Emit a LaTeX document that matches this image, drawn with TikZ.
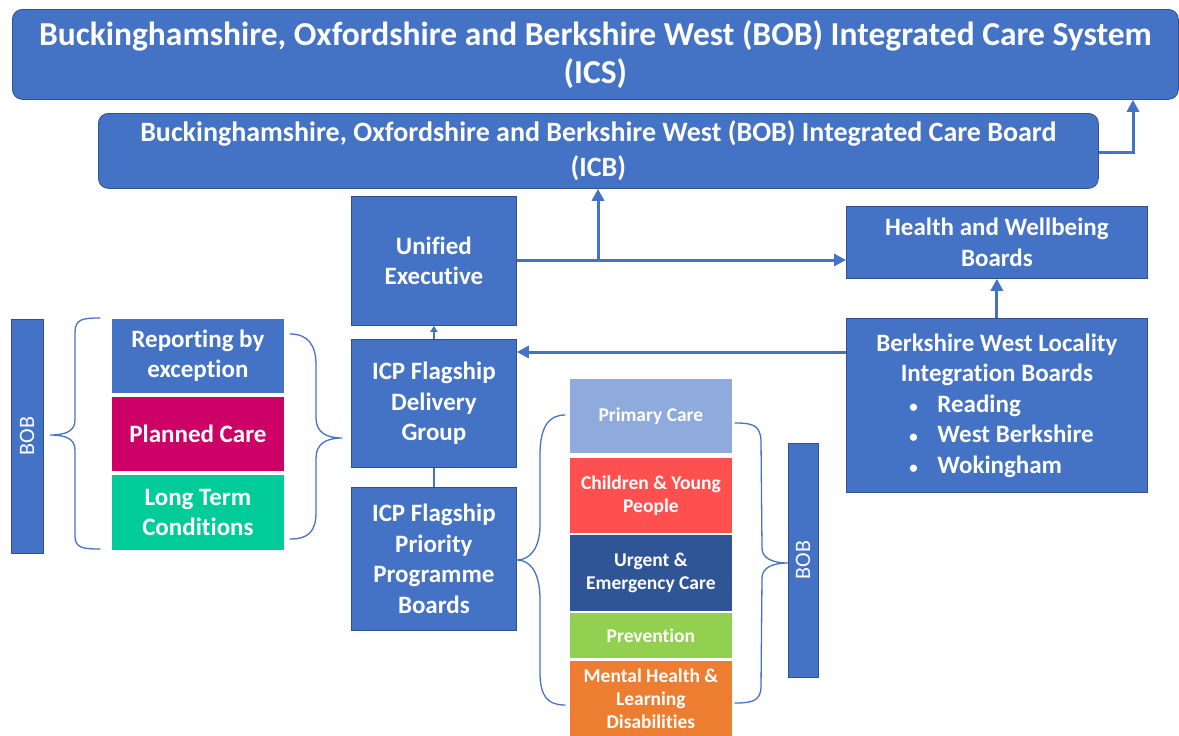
\documentclass[tikz,border=0pt]{standalone}
\usepackage{fontspec}
\setmainfont{Carlito}[Ligatures={NoCommon}]
\usetikzlibrary{arrows.meta}

\definecolor{boxblue}{HTML}{4472C4}
\definecolor{edgeblue}{HTML}{2F528F}
\definecolor{plancol}{HTML}{CC0066}
\definecolor{ltccol}{HTML}{00CC99}
\definecolor{primcol}{HTML}{8FAADC}
\definecolor{cypcol}{HTML}{FF5050}
\definecolor{ueccol}{HTML}{2F5597}
\definecolor{prevcol}{HTML}{92D050}
\definecolor{mhcol}{HTML}{ED7D31}

\newcommand{\bulletitem}[1]{\makebox[175pt][l]{\makebox[28pt][l]{\fontsize{17}{17}\selectfont\textbullet}#1}}

\begin{document}
\begin{tikzpicture}[x=1pt,y=-1pt,
  wh/.style 2 args={minimum width=#1pt, minimum height=#2pt},
  box/.style={draw=edgeblue, line width=0.8pt, fill=boxblue, text=white,
    inner sep=0pt, align=center, anchor=north west},
  band/.style={draw=white, line width=0.8pt, text=white, inner sep=0pt,
    align=center, anchor=north west},
  fxl/.style={font=\fontsize{33.5}{38}\selectfont\bfseries},
  flg/.style={font=\fontsize{28}{35}\selectfont\bfseries},
  fmd/.style={font=\fontsize{25}{30.5}\selectfont\bfseries},
  fsm/.style={font=\fontsize{19.5}{23}\selectfont\bfseries},
  fbob/.style={font=\fontsize{22}{24}\selectfont},
  arr/.style={draw=boxblue, line width=3pt, -{Triangle[length=12pt,width=12pt]}},
  thinarr/.style={draw=boxblue, line width=1.8pt, -{Triangle[length=6pt,width=7pt]}},
  brace/.style={draw=boxblue, line width=1.3pt, line cap=round}
]
\useasboundingbox (0,0) rectangle (1179,736);

% top level boxes
\node[box, fxl, rounded corners=10pt, wh={1166}{90}] (ics) at (12,9)
  {Buckinghamshire, Oxfordshire and Berkshire West (BOB) Integrated Care System\\(ICS)};
\node[box, flg, rounded corners=10pt, wh={1000}{75}] (icb) at (98,113)
  {Buckinghamshire, Oxfordshire and Berkshire West (BOB) Integrated Care Board\\(ICB)};

% governance column
\node[box, fmd, wh={165}{129}] (ue) at (351,196) {Unified\\Executive};
\node[box, fmd, wh={165}{128}] (dg) at (351,339) {ICP Flagship\\Delivery\\Group};
\node[box, fmd, wh={165}{143}] (pb) at (351,487) {ICP Flagship\\Priority\\Programme\\Boards};

% right column
\node[box, fmd, wh={301}{72}] (hwb) at (846,206) {Health and Wellbeing\\Boards};
\node[box, fmd, wh={301}{174}] (bw) at (846,318)
  {Berkshire West Locality\\Integration Boards\\
   \bulletitem{Reading}\\
   \bulletitem{West Berkshire}\\
   \bulletitem{Wokingham}};

% BOB bars
\node[box, fbob, rotate=90, wh={234}{32}, anchor=center] (bobL) at (27,436) {BOB};
\node[box, fbob, rotate=90, wh={234}{30}, anchor=center] (bobR) at (803,560) {BOB};

% reporting group
\node[band, fmd, fill=boxblue, wh={173}{75}] (rep) at (111,318) {Reporting by\\exception};
\node[band, fmd, fill=plancol, wh={173}{75}] (plan) at (111,396) {Planned Care};
\node[band, fmd, fill=ltccol, wh={173}{76}] (ltc) at (111,474) {Long Term\\Conditions};

% priority programmes
\node[band, fsm, fill=primcol, wh={163}{75}] (prim) at (569,378) {Primary Care};
\node[band, fsm, fill=cypcol, wh={163}{76}] (cyp) at (569,457) {Children \& Young\\People};
\node[band, fsm, fill=ueccol, wh={163}{77}] (uec) at (569,534) {Urgent \&\\Emergency Care};
\node[band, fsm, fill=prevcol, wh={163}{46}] (prev) at (569,612) {Prevention};
\node[band, fsm, fill=mhcol, wh={163}{77}] (mhld) at (569,660) {Mental Health \&\\Learning\\Disabilities};

% connectors
\coordinate (icbR) at (1133,152);
\draw[arr] (icb.east |- icbR) -- (icbR) -- (icbR |- ics.south);
\coordinate (split) at (598,260);
\draw[arr] (ue.east |- split) -- (hwb.west |- split);
\draw[arr] (split) -- (split |- icb.south);
\draw[arr] (hwb.south |- bw.north) -- (hwb.south);
\coordinate (bwL) at (846,352);
\draw[arr] (bwL) -- (dg.east |- bwL);
\draw[thinarr] (dg.north) -- (ue.south);
\draw[draw=boxblue, line width=1.8pt] (dg.south) -- (pb.north);

% braces
\draw[brace] (100,318) .. controls (83,318) and (75,319) .. (75,332)
  -- (75,420) .. controls (75,431) and (66,435) .. (50,435)
  .. controls (66,435) and (75,439) .. (75,450)
  -- (75,536) .. controls (75,548) and (83,549) .. (100,549);
\draw[brace] (290,334) .. controls (308,334) and (316,345) .. (316,365)
  -- (316,418) .. controls (316,432) and (326,438) .. (342,438)
  .. controls (326,438) and (316,444) .. (316,458)
  -- (316,512) .. controls (316,532) and (308,539) .. (290,539);
\draw[brace] (565,415) .. controls (548,415) and (540,428) .. (540,455)
  -- (540,525) .. controls (540,548) and (530,560) .. (517,560)
  .. controls (530,560) and (540,572) .. (540,600)
  -- (540,672) .. controls (540,697) and (548,705) .. (565,705);
\draw[brace] (735,423) .. controls (752,423) and (760,425) .. (761,440)
  -- (762,548) .. controls (762,558) and (772,563) .. (788,563)
  .. controls (772,563) and (762,568) .. (762,578)
  -- (761,688) .. controls (760,701) and (752,703) .. (735,703);
\end{tikzpicture}
\end{document}
